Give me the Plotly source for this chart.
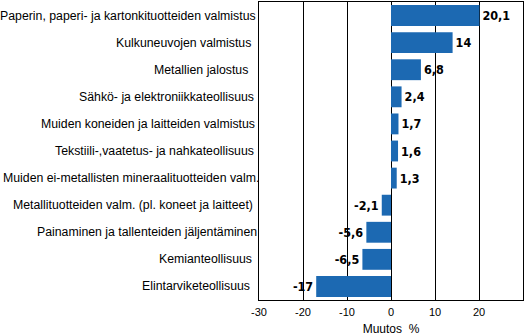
import plotly.graph_objects as go

categories = [
    "Paperin, paperi- ja kartonkituotteiden valmistus",
    "Kulkuneuvojen valmistus",
    "Metallien jalostus",
    "Sähkö- ja elektroniikkateollisuus",
    "Muiden koneiden ja laitteiden valmistus",
    "Tekstiili-,vaatetus- ja nahkateollisuus",
    "Muiden ei-metallisten mineraalituotteiden valm.",
    "Metallituotteiden valm. (pl. koneet ja laitteet)",
    "Painaminen ja tallenteiden jäljentäminen",
    "Kemianteollisuus",
    "Elintarviketeollisuus",
]
values = [20.1, 14, 6.8, 2.4, 1.7, 1.6, 1.3, -2.1, -5.6, -6.5, -17]
label_right_px = [257, 252, 249, 255, 256, 255, 260, 254, 258, 253, 251]
tick_vals = [-30, -20, -10, 0, 10, 20, 30]

texts = [(f"{v:g}").replace(".", ",") for v in values]

W, H = 529, 336
L, R, T, B = 259, 6, 1, 35

fig = go.Figure(go.Bar(
    x=values, y=categories, orientation="h",
    marker=dict(color="#1C69B2", line=dict(width=0)),
    text=texts, textposition="outside", cliponaxis=False,
    textfont=dict(family="DejaVu Sans Condensed, Liberation Sans", size=12.5, color="#000000", weight="bold"),
    width=0.77,
))

annotations = []
for cat, rp in zip(categories, label_right_px):
    annotations.append(dict(
        x=0, xref="paper", y=cat, yref="y", xanchor="right", yanchor="middle",
        xshift=rp - L + 1, text=cat, showarrow=False,
        font=dict(family="Liberation Sans", size=12.3, color="#000000"),
    ))

fig.update_layout(
    width=W, height=H,
    margin=dict(l=L, r=R, t=T, b=B),
    paper_bgcolor="white", plot_bgcolor="white",
    showlegend=False,
    annotations=annotations,
    xaxis=dict(
        range=[-30, 30], tickvals=tick_vals, ticktext=[str(t) for t in tick_vals],
        showgrid=True, gridcolor="#000000", gridwidth=1,
        zeroline=True, zerolinecolor="#000000", zerolinewidth=1,
        showline=True, linecolor="#000000", linewidth=1, mirror=True,
        ticks="", ticklabelstandoff=2,
        tickfont=dict(family="Liberation Sans", size=11, color="#000000"),
        title=dict(text="Muutos  %", font=dict(family="Liberation Sans", size=12, color="#000000"), standoff=8),
        fixedrange=True,
    ),
    yaxis=dict(
        autorange="reversed", showticklabels=False, showgrid=False,
        showline=True, linecolor="#000000", linewidth=1, mirror=True, ticks="",
    ),
)

fig.write_html("out.html")
